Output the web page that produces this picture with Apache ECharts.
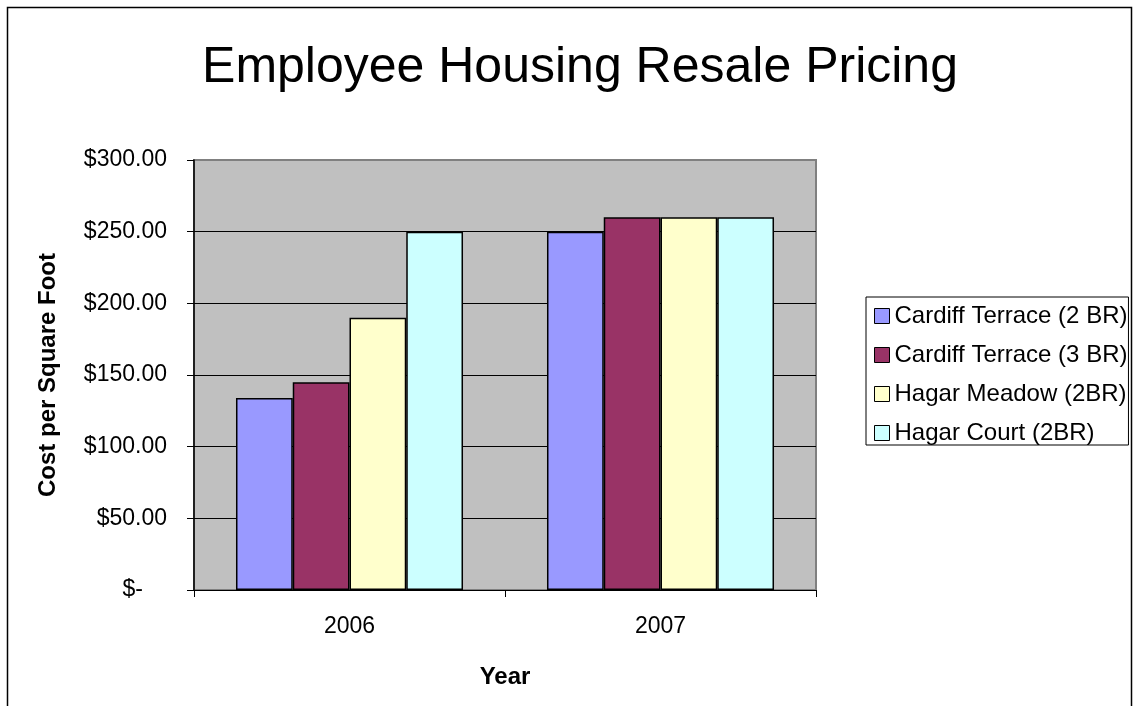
<!DOCTYPE html>
<html>
<head>
<meta charset="utf-8">
<script src="https://cdn.jsdelivr.net/npm/echarts@6/dist/echarts.min.js"></script>
<style>html,body{margin:0;padding:0;background:#fff}#c{width:1133px;height:706px}</style>
</head>
<body>
<div id="c"></div>
<script>
const categories = ['2006', '2007'];
const seriesNames = ['Cardiff Terrace (2 BR)', 'Cardiff Terrace (3 BR)', 'Hagar Meadow (2BR)', 'Hagar Court (2BR)'];
const cardiff2BR = [134, 250];
const cardiff3BR = [145, 260];
const hagarMeadow2BR = [190, 260];
const hagarCourt2BR = [250, 260];
const colors = ['#9999FF', '#993366', '#FFFFCC', '#CCFFFF'];
const FONT = '"Liberation Sans", Arial, sans-serif';

const seriesValues = [cardiff2BR, cardiff3BR, hagarMeadow2BR, hagarCourt2BR];
const chart = echarts.init(document.getElementById('c'), null, {renderer: 'canvas'});
chart.setOption({
  animation: false,
  backgroundColor: '#ffffff',
  title: {
    text: 'Employee Housing Resale Pricing',
    left: 575, top: 38, textAlign: 'center',
    textStyle: {fontFamily: FONT, fontSize: 50, fontWeight: 'normal', color: '#000'}
  },
  graphic: [{
    type: 'polyline', silent: true, z: 100,
    shape: {points: [[7.5, 720], [7.5, 7.5], [1131.5, 7.5], [1131.5, 720]]},
    style: {stroke: '#000', lineWidth: 1.5, fill: null}
  }],
  legend: {
    orient: 'vertical',
    left: 866, top: 297,
    padding: [7, 1, 0, 8],
    itemGap: 15,
    itemWidth: 15, itemHeight: 15,
    icon: 'rect',
    borderColor: '#000', borderWidth: 1,
    itemStyle: {borderColor: '#000', borderWidth: 1},
    textStyle: {fontFamily: FONT, fontSize: 24, lineHeight: 24, color: '#000'},
    data: seriesNames
  },
  grid: {left: 194, right: 317, top: 160, bottom: 116, show: true, backgroundColor: '#C0C0C0', borderColor: '#808080', borderWidth: 2},
  xAxis: {
    type: 'category', data: categories,
    name: 'Year', nameLocation: 'middle', nameGap: 75,
    nameTextStyle: {fontFamily: FONT, fontSize: 24, fontWeight: 'bold', color: '#000'},
    axisLine: {show: true, lineStyle: {color: '#000', width: 1}},
    axisTick: {show: true, length: 7, lineStyle: {color: '#000'}},
    axisLabel: {fontFamily: FONT, fontSize: 23, color: '#000', margin: 25}
  },
  yAxis: {
    type: 'value', min: 0, max: 300, interval: 50,
    name: 'Cost per Square Foot', nameLocation: 'middle', nameGap: 134, nameRotate: 90,
    nameTextStyle: {fontFamily: FONT, fontSize: 24, fontWeight: 'bold', color: '#000'},
    axisLine: {show: true, lineStyle: {color: '#000', width: 1.5}},
    axisTick: {show: true, inside: false, length: 7, lineStyle: {color: '#000'}},
    splitLine: {show: true, showMaxLine: false, showMinLine: false, lineStyle: {color: '#000', width: 1}},
    axisLabel: {
      fontFamily: FONT, fontSize: 23, color: '#000', margin: 27,
      formatter: function (v) { return v === 0 ? '{z|$-}' : '$' + v.toFixed(2); },
      rich: {z: {fontFamily: FONT, fontSize: 23, color: '#000', padding: [0, 24, 0, 0]}}
    }
  },
  series: seriesNames.map(function (n, i) {
    return {
      name: n, type: 'bar', data: seriesValues[i],
      barGap: '0%', barCategoryGap: '27%',
      itemStyle: {color: colors[i], borderColor: '#000', borderWidth: 1.5}
    };
  })
});
</script>
</body>
</html>
